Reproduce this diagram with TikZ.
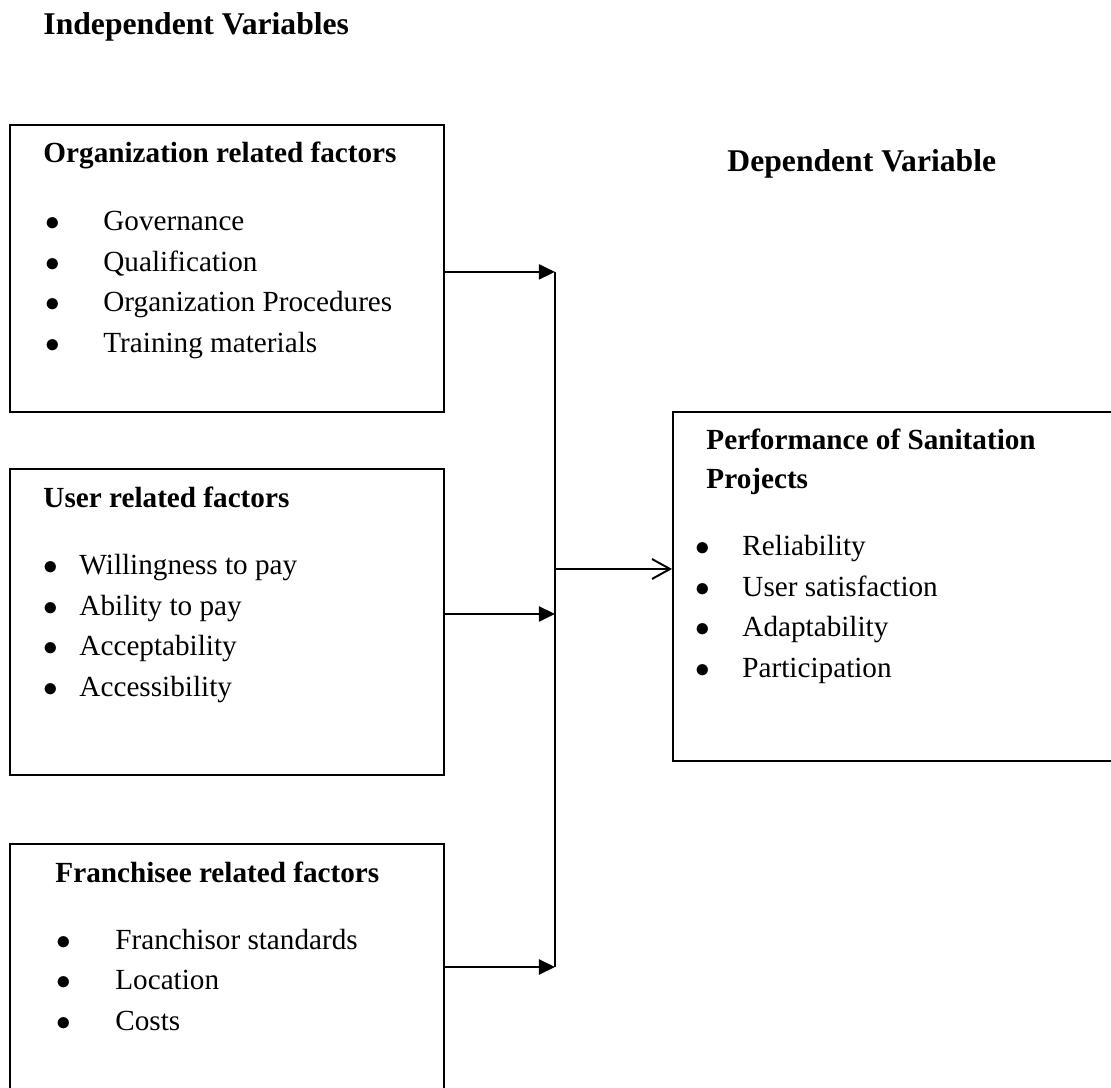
\documentclass[tikz,border=0pt]{standalone}
\usepackage{fontspec}
\setmainfont{Liberation Serif}
\usepackage{tikz}
\usetikzlibrary{arrows.meta,positioning,fit}
\newcommand{\bul}[2]{\makebox[#1][l]{$\bullet$}#2}

\begin{document}
\begin{tikzpicture}[
  x=0.411pt, y=-0.411pt,
  box/.style={draw,line width=0.8pt,inner sep=0pt},
  title/.style={anchor=base west,inner sep=0pt,font=\fontsize{13}{15}\selectfont\bfseries},
  head/.style={anchor=base west,inner sep=0pt,align=left,font=\fontsize{12}{16}\selectfont\bfseries},
  items/.style={anchor=base west,inner sep=0pt,align=left,font=\fontsize{12}{16.6}\selectfont},
  feed/.style={-{Triangle[length=6.6pt,width=6.2pt]},line width=0.8pt},
  result/.style={-{Straight Barb[length=7.4pt,width=8.2pt]},line width=0.8pt}
]
  \clip (0,0) rectangle (1111,1088);
  \fill[white] (0,0) rectangle (1111,1088);

  \node[title] (indep) at (43,35) {Independent Variables};
  \node[title] (dep) at (727,172) {Dependent Variable};

  % multi-line nodes sit on the baseline of their last line
  \node[box, fit={(10,125) (444,412)}] (org) {};
  \node[head] (orgh) at (43,163) {Organization related factors};
  \node[items] (orgl) at (45,352) {\bul{23.8pt}{Governance}\\\bul{23.8pt}{Qualification}\\
    \bul{23.8pt}{Organization Procedures}\\\bul{23.8pt}{Training materials}};

  \node[box, fit={(10,469) (444,775)}] (user) {};
  \node[head] (userh) at (43,507) {User related factors};
  \node[items] (userl) at (43,696) {\bul{14.8pt}{Willingness to pay}\\\bul{14.8pt}{Ability to pay}\\
    \bul{14.8pt}{Acceptability}\\\bul{14.8pt}{Accessibility}};

  \node[box, fit={(10,844) (444,1090)}] (fran) {};
  \node[head] (franh) at (55,882) {Franchisee related factors};
  \node[items] (franl) at (56,1030) {\bul{24.2pt}{Franchisor standards}\\\bul{24.2pt}{Location}\\
    \bul{24.2pt}{Costs}};

  \node[box, fit={(673,412) (1116,761)}] (perf) {};
  \node[head] (perfh) at (706,488) {Performance of Sanitation\\Projects};
  \node[items] (perfl) at (695,677) {\bul{19.3pt}{Reliability}\\\bul{19.3pt}{User satisfaction}\\
    \bul{19.3pt}{Adaptability}\\\bul{19.3pt}{Participation}};

  % connectors
  \coordinate (join) at (554,569);
  \draw[feed] ([yshift=-1.4pt]org.east) -- ++(110,0) coordinate (top);
  \draw[feed] ([yshift=3.3pt]user.east) -- ++(110,0);
  \draw[feed] (fran.east) -- ++(110,0) coordinate (bot);
  \draw[line width=0.8pt] (top) -- (bot);
  \draw[result] (join) -- (join -| perf.west);
\end{tikzpicture}
\end{document}
